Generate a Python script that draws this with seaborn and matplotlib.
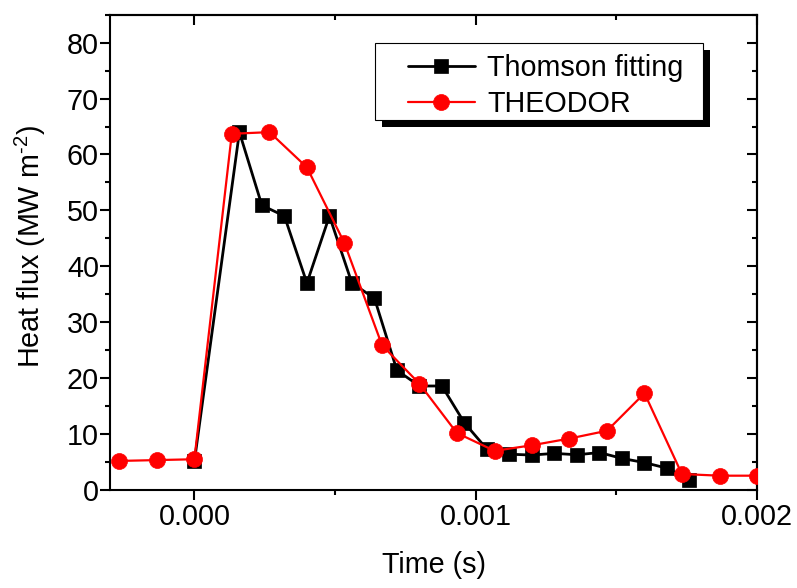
import matplotlib
matplotlib.use('Agg')
import matplotlib.pyplot as plt
import matplotlib.ticker as mticker
from matplotlib.patches import Rectangle
import pandas as pd
import seaborn as sns

# ---- data ----
thomson_time = [0.0, 0.00016, 0.00024, 0.00032, 0.0004, 0.00048, 0.00056, 0.00064,
                0.00072, 0.0008, 0.00088, 0.00096, 0.00104, 0.00112, 0.0012, 0.00128,
                0.00136, 0.00144, 0.00152, 0.0016, 0.00168, 0.00176]
thomson_flux = [5.1, 64.0, 50.9, 49.0, 37.0, 49.0, 37.0, 34.3,
                21.4, 18.6, 18.6, 12.0, 7.3, 6.4, 6.25, 6.55,
                6.3, 6.7, 5.65, 4.9, 3.9, 1.8]
theodor_time = [-0.000267, -0.000133, 0.0, 0.000133, 0.000267, 0.0004, 0.000533, 0.000667,
                0.0008, 0.000933, 0.001067, 0.0012, 0.001333, 0.001467, 0.0016, 0.001733,
                0.001867, 0.002]
theodor_flux = [5.2, 5.35, 5.5, 63.7, 64.0, 57.7, 44.2, 25.9,
                19.0, 10.2, 7.0, 8.0, 9.2, 10.6, 17.3, 2.86,
                2.56, 2.56]
series_names = ["Thomson fitting", "THEODOR"]
x_ticks = [0.0, 0.001, 0.002]
x_label = "Time (s)"
y_label = r"Heat flux (MW m$^{\text{-2}}$)"

sns.set_theme(style="ticks")
plt.rcParams['font.family'] = ['Liberation Sans', 'DejaVu Sans']
plt.rcParams['mathtext.fontset'] = 'custom'
plt.rcParams['mathtext.rm'] = 'Liberation Sans'
plt.rcParams['mathtext.it'] = 'Liberation Sans:italic'
plt.rcParams['mathtext.bf'] = 'Liberation Sans:bold'
plt.rcParams['text.color'] = 'black'
plt.rcParams['axes.labelcolor'] = 'black'
plt.rcParams['xtick.color'] = 'black'
plt.rcParams['ytick.color'] = 'black'

FS = 20.7

fig = plt.figure(figsize=(7.97, 5.88), dpi=100)
ax = fig.add_axes([110/797, (588-490)/588, 647/797, 475.3/588])

df_t = pd.DataFrame({"time": thomson_time, "flux": thomson_flux})
df_h = pd.DataFrame({"time": theodor_time, "flux": theodor_flux})

sns.lineplot(data=df_t, x="time", y="flux", ax=ax, color="black", lw=2.0,
             marker="s", markersize=10, markeredgecolor="black", markerfacecolor="black",
             markeredgewidth=0.5, sort=False, estimator=None, label=series_names[0], zorder=3)
sns.lineplot(data=df_h, x="time", y="flux", ax=ax, color="red", lw=1.6,
             marker="o", markersize=11.5, markeredgecolor="red", markerfacecolor="red",
             markeredgewidth=0.5, sort=False, estimator=None, label=series_names[1], zorder=4)

ax.set_xlim(-0.0003, 0.002)
ax.set_ylim(0, 85)
ax.xaxis.set_major_locator(mticker.FixedLocator(x_ticks))
ax.xaxis.set_minor_locator(mticker.MultipleLocator(0.0005))
ax.xaxis.set_major_formatter(mticker.FormatStrFormatter('%.3f'))
ax.yaxis.set_major_locator(mticker.MultipleLocator(10))
ax.yaxis.set_minor_locator(mticker.MultipleLocator(5))

for sp in ax.spines.values():
    sp.set_linewidth(1.5)
    sp.set_color('black')

ax.tick_params(axis='both', which='major', direction='out', length=7, width=1.5,
               colors='black', labelsize=FS)
ax.tick_params(axis='both', which='minor', direction='out', length=3.5, width=1.5,
               colors='black')
ax.tick_params(axis='x', which='major', pad=2.5)
ax.tick_params(axis='y', which='major', pad=1)

secx = ax.secondary_xaxis('top')
secx.xaxis.set_major_locator(mticker.FixedLocator(x_ticks))
secx.xaxis.set_minor_locator(mticker.MultipleLocator(0.0005))
secx.tick_params(which='major', direction='in', length=7, width=1.5, labeltop=False)
secx.tick_params(which='minor', direction='in', length=3.5, width=1.5)
secx.spines['top'].set_linewidth(1.5)

secy = ax.secondary_yaxis('right')
secy.yaxis.set_major_locator(mticker.MultipleLocator(10))
secy.yaxis.set_minor_locator(mticker.MultipleLocator(5))
secy.tick_params(which='major', direction='in', length=7, width=1.5, labelright=False)
secy.tick_params(which='minor', direction='in', length=3.5, width=1.5)
secy.spines['right'].set_linewidth(1.5)

ax.set_xlabel(x_label, fontsize=FS, color='black')
ax.set_ylabel(y_label, fontsize=FS, color='black')
ax.xaxis.set_label_coords(0.5, -0.128)
ax.yaxis.set_label_coords(-0.0958, 0.513)

# legend frame with hard black shadow
bx, by, bw, bh = 0.4096, 0.7785, 0.507, 0.1625
ax.add_patch(Rectangle((bx + 0.0108, by - 0.0147), bw, bh, transform=ax.transAxes,
                       facecolor='black', edgecolor='black', lw=0, zorder=8, clip_on=False))
ax.add_patch(Rectangle((bx, by), bw, bh, transform=ax.transAxes,
                       facecolor='white', edgecolor='black', lw=0.8, zorder=9, clip_on=False))

leg = ax.legend(loc='upper left', bbox_to_anchor=(0.460, 0.918), frameon=False,
                fontsize=FS, borderpad=0, borderaxespad=0, handlelength=2.35,
                handletextpad=0.42, labelspacing=0.3)
leg.set_zorder(10)
for t in leg.get_texts():
    t.set_color('black')

fig.savefig("out.png", dpi=100)
